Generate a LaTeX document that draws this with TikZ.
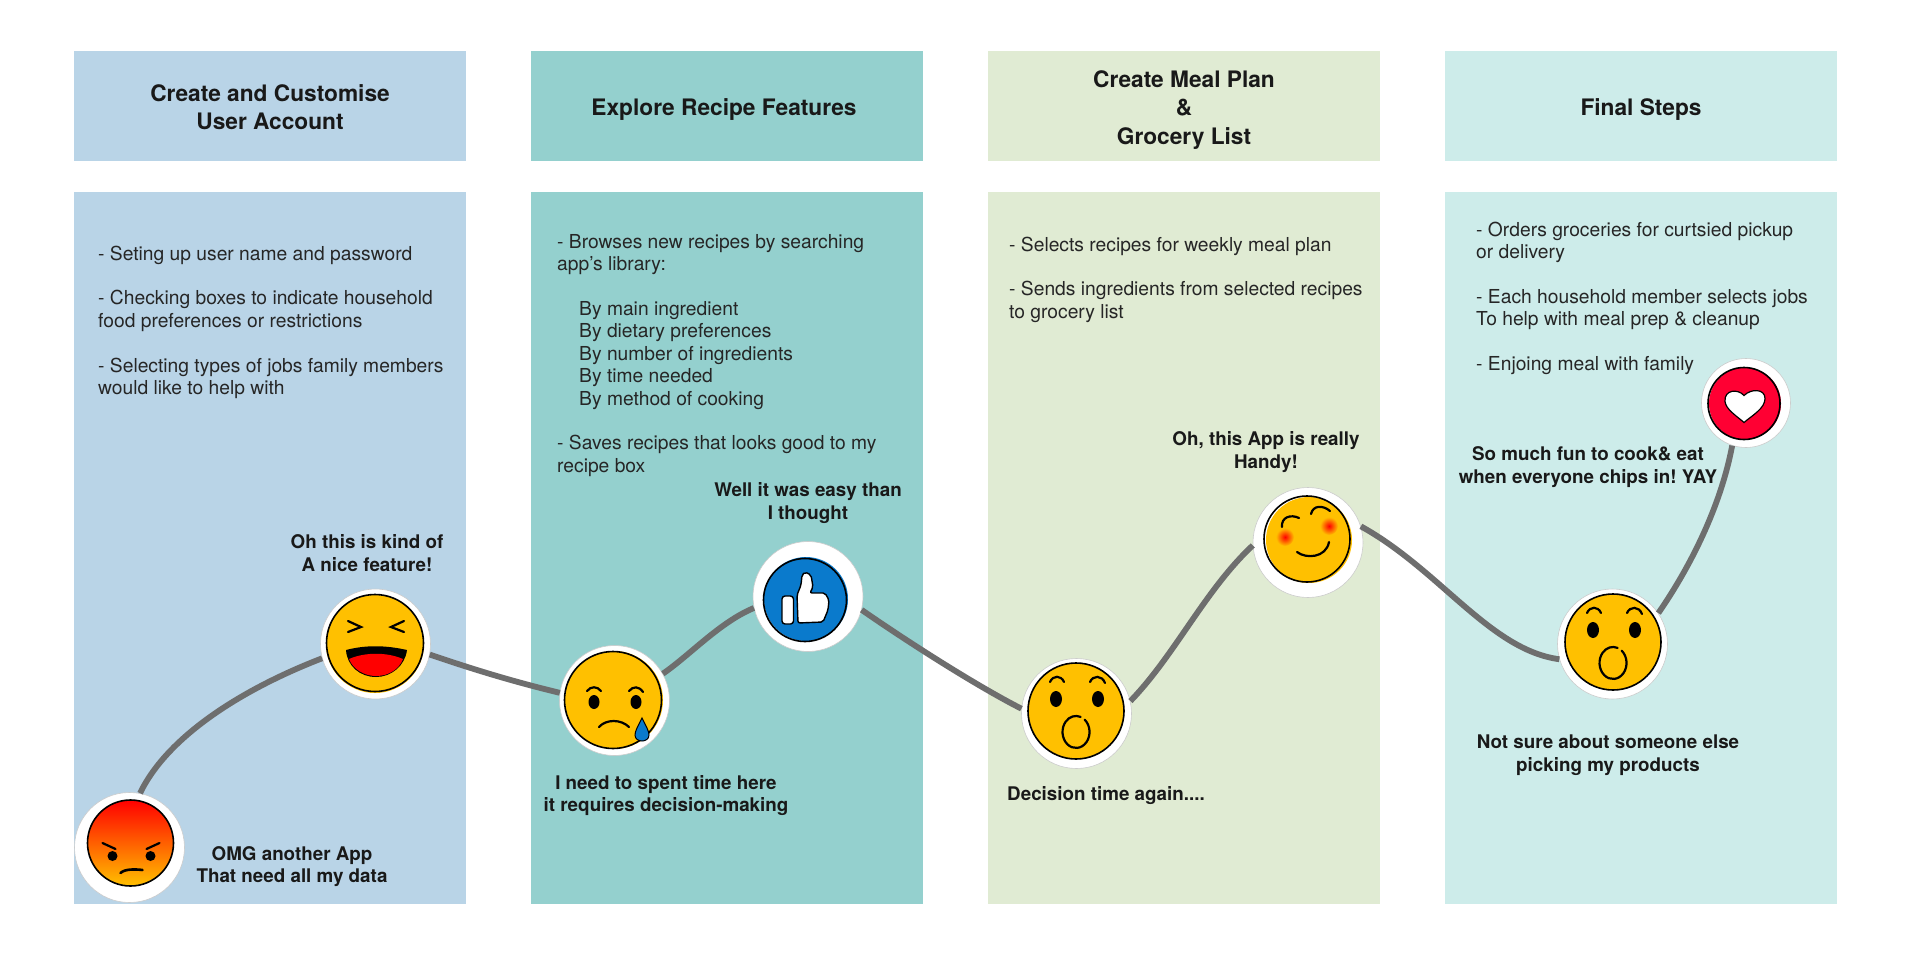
\documentclass[tikz,border=0pt]{standalone}
\usepackage{fontspec}
\setmainfont{TeX Gyre Heros}
\usepackage{xcolor}
\usepackage{tikz}

\definecolor{paneA}{HTML}{B9D4E7}
\definecolor{paneB}{HTML}{94D0CE}
\definecolor{paneC}{HTML}{E0EBD3}
\definecolor{paneD}{HTML}{CDECEA}
\definecolor{faceyellow}{HTML}{FFC000}
\definecolor{thumbblue}{HTML}{0A7ACC}
\definecolor{heartred}{HTML}{FF0033}
\definecolor{trackgray}{HTML}{6E6E6E}

\tikzset{
  headbox/.style={minimum width=392pt, minimum height=110pt, inner sep=0pt},
  bodybox/.style={minimum width=392pt, minimum height=712pt, inner sep=0pt},
  headtext/.style={inner sep=0pt, align=center, text=black!90, font=\bfseries\fontsize{22.7}{28.2}\selectfont},
  itemtext/.style={inner sep=0pt, anchor=north west, align=left, text=black!85, font=\frenchspacing\fontsize{19.25}{22.4}\selectfont},
  saytext/.style={inner sep=0pt, align=center, text=black!90, font=\frenchspacing\bfseries\fontsize{18.8}{22.8}\selectfont},
  bubble/.style={circle, fill=white, draw=black!20, line width=0.6pt, minimum size=110pt, inner sep=0pt},
  track/.style={draw=trackgray, line width=5.8pt},
  ink/.style={draw=black, line width=2.2pt, line cap=round},
  ring/.style={draw=black, line width=1.6pt}
}

\begin{document}
\begin{tikzpicture}[x=1pt,y=-1pt]
  \useasboundingbox (0,0) rectangle (1920,956);

  % Header boxes
  \node[headbox, fill=paneA] (headA) at (270,105.5) {};
  \node[headbox, fill=paneB] (headB) at (727,105.5) {};
  \node[headbox, fill=paneC] (headC) at (1184,105.5) {};
  \node[headbox, fill=paneD] (headD) at (1641,105.5) {};

  % Body columns
  \node[bodybox, fill=paneA] (bodyA) at (270,548) {};
  \node[bodybox, fill=paneB] (bodyB) at (727,548) {};
  \node[bodybox, fill=paneC] (bodyC) at (1184,548) {};
  \node[bodybox, fill=paneD] (bodyD) at (1641,548) {};

  % Header titles
  \node[headtext] (titleA) at (270,107) {Create and Customise\\User Account};
  \node[headtext] (titleB) at (724,110) {Explore Recipe Features};
  \node[headtext] (titleC) at (1184,110) {Create Meal Plan\\\&\\Grocery List};
  \node[headtext] (titleD) at (1641,110) {Final Steps};

  % Column texts
  \node[itemtext] (itemsA) at (98,245.5) {- Seting up user name and password\\[22.4pt]
    - Checking boxes to indicate household\\food preferences or restrictions\\[22.4pt]
    - Selecting types of jobs family members\\would like to help with};
  \node[itemtext] (itemsB) at (557,234) {- Browses new recipes by searching\\app’s library:\\[22.4pt]
    \hspace*{22pt}By main ingredient\\\hspace*{22pt}By dietary preferences\\\hspace*{22pt}By number of ingredients\\\hspace*{22pt}By time needed\\\hspace*{22pt}By method of cooking\\[22.4pt]
    - Saves recipes that looks good to my\\recipe box};
  \node[itemtext] (itemsC) at (1009,236.5) {- Selects recipes for weekly meal plan\\[22.4pt]
    - Sends ingredients from selected recipes\\to grocery list};
  \node[itemtext] (itemsD) at (1476,221.5) {- Orders groceries for curtsied pickup\\or delivery\\[22.4pt]
    - Each household member selects jobs\\To help with meal prep \& cleanup\\[22.4pt]
    - Enjoing meal with family};

  % Remarks along the curve
  \node[saytext] (sayAngry) at (292,866.5) {OMG another App\\That need all my data};
  \node[saytext] (sayLaugh) at (367,553) {Oh this is kind of\\A nice feature!};
  \node[saytext] (saySad) at (666,795.5) {I need to spent time here\\it requires decision-making};
  \node[saytext] (sayThumb) at (808,503) {Well it was easy than\\I thought};
  \node[saytext] (sayOhA) at (1106,795.5) {Decision time again....};
  \node[saytext] (saySmile) at (1266,452) {Oh, this App is really\\Handy!};
  \node[saytext] (sayOhB) at (1608,755) {Not sure about someone else\\picking my products};
  \node[saytext] (sayHeart) at (1588,467) {So much fun to cook\& eat\\when everyone chips in! YAY};

  % Bubbles on the curve
  \node[bubble] (angry) at (129.5,847.5) {};
  \node[bubble] (laugh) at (375.5,644) {};
  \node[bubble] (sad) at (614.5,700.5) {};
  \node[bubble] (thumb) at (808,596.5) {};
  \node[bubble] (ohA) at (1076.5,713.5) {};
  \node[bubble] (smile) at (1308,542.5) {};
  \node[bubble] (ohB) at (1612.5,644) {};
  \node[bubble, minimum size=89pt] (heart) at (1746,403) {};

  % Journey curve
  \draw[track] (angry.79) .. controls (168,735) and (245,688) .. (laugh.195);
  \draw[track] (laugh.-11) .. controls (475,670) and (515,682) .. (sad.172);
  \draw[track] (sad.29) .. controls (690,655) and (720,622) .. (thumb.192);
  \draw[track] (thumb.-14) .. controls (905,640) and (975,685) .. (ohA.175);
  \draw[track] (ohA.13) .. controls (1175,655) and (1205,590) .. (smile.183);
  \draw[track] (smile.17) .. controls (1440,570) and (1490,650) .. (ohB.196);
  \draw[track] (ohB.34) .. controls (1695,560) and (1722,500) .. (heart.252);

  % Angry face
  \begin{scope}[shift={(130.5,843)}]
    \shade[top color=red, middle color=orange!95!red, bottom color=faceyellow] (0,0) circle (43pt);
    \draw[ring] (0,0) circle (43pt);
    \draw[ink] (-28,0) -- (-15,6);
    \draw[ink] (29,0) -- (16,6);
    \fill (-18,13) circle (5pt);
    \fill (20,13) circle (5pt);
    \draw[ink, line width=2.6pt] (-10,30) .. controls (-6,26) and (4,26) .. (12,27);
  \end{scope}

  % Laughing face
  \begin{scope}[shift={(375,644)}]
    \fill[faceyellow] (0,0) circle (49pt);
    \draw[ring] (0,-1) circle (48.5pt);
    \draw[ink] (-27,-23) -- (-14,-17) -- (-27,-12);
    \draw[ink] (29,-23) -- (16,-17) -- (29,-12);
    \fill[black] (-29,6) .. controls (-10,1) and (10,1) .. (32,6) .. controls (30,22) and (16,33) .. (1,33) .. controls (-15,33) and (-28,22) .. (-29,6) -- cycle;
    \fill[red] (-26,15) .. controls (-10,8) and (12,8) .. (28,15) .. controls (24,25) and (14,32) .. (1,32) .. controls (-11,32) and (-22,25) .. (-26,15) -- cycle;
  \end{scope}

  % Sad face
  \begin{scope}[shift={(614,700)}]
    \fill[faceyellow] (0,0) circle (49pt);
    \draw[ring] (-1,0) circle (48.5pt);
    \draw[ink] (-27,-9) .. controls (-23,-14) and (-17,-14) .. (-13,-9);
    \draw[ink] (15,-9) .. controls (19,-14) and (25,-14) .. (29,-8);
    \fill (-20,2) ellipse (5.5pt and 7pt);
    \fill (22,2) ellipse (5.5pt and 7pt);
    \draw[ink] (-15,27) .. controls (-8,19) and (7,19) .. (15,27);
    \draw[fill=thumbblue, draw=black, line width=1pt] (28,18) .. controls (24,26) and (21,31) .. (21,35) .. controls (21,43) and (35,43) .. (35,35) .. controls (35,31) and (32,26) .. (28,18) -- cycle;
  \end{scope}

  % Thumbs up
  \begin{scope}[shift={(806,599)}]
    \fill[thumbblue] (0,0) circle (42pt);
    \draw[ring] (-1,1) circle (41.5pt);
    \draw[fill=white, draw=black, line width=1.4pt, rounded corners=3pt] (-24,-3) rectangle (-12.5,25);
    \draw[fill=white, draw=black, line width=1.4pt, rounded corners=2pt] (-8,24) -- (-9,-4) -- (-5,-14) -- (-4,-24) -- (-1,-27) -- (5,-24) -- (7,-12) -- (4,-6) -- (19,-6) -- (23,1) -- (22,11) -- (17,23) -- cycle;
  \end{scope}

  % Surprised face, first
  \begin{scope}[shift={(1076,711)}]
    \fill[faceyellow] (0,0) circle (48pt);
    \draw[ring] (0,0) circle (48pt);
    \draw[ink] (-26,-29) .. controls (-23,-36) and (-15,-36) .. (-12,-29);
    \draw[ink] (14,-29) .. controls (17,-36) and (26,-36) .. (29,-28);
    \fill (-20,-12) ellipse (6pt and 8pt);
    \fill (22,-12) ellipse (6pt and 8pt);
    \draw[ink] (8.7,8.7) arc[start angle=50, end angle=-290, x radius=13.5pt, y radius=16pt];
  \end{scope}

  % Smiling face
  \begin{scope}[shift={(1308,539)}]
    \fill[faceyellow] (1,1) circle (43pt);
    \draw[ring] (-1,0) circle (43pt);
    \shade[inner color=red, outer color=faceyellow] (-23,-2) circle (9pt);
    \shade[inner color=red, outer color=faceyellow] (21,-13) circle (9pt);
    \draw[ink] (-26,-12) .. controls (-27,-22) and (-17,-25) .. (-9,-21);
    \draw[ink] (3,-25) .. controls (5,-34) and (15,-34) .. (22,-28);
    \draw[ink] (-11,13) .. controls (-2,20) and (18,19) .. (21,3);
  \end{scope}

  % Surprised face, second
  \begin{scope}[shift={(1613,642)}]
    \fill[faceyellow] (0,0) circle (48pt);
    \draw[ring] (0,0) circle (48pt);
    \draw[ink] (-26,-29) .. controls (-23,-36) and (-15,-36) .. (-12,-29);
    \draw[ink] (14,-29) .. controls (17,-36) and (26,-36) .. (29,-28);
    \fill (-20,-12) ellipse (6pt and 8pt);
    \fill (22,-12) ellipse (6pt and 8pt);
    \draw[ink] (8.7,8.7) arc[start angle=50, end angle=-290, x radius=13.5pt, y radius=16pt];
  \end{scope}

  % Heart
  \begin{scope}[shift={(1745,403.5)}]
    \fill[heartred] (0,0) circle (36pt);
    \draw[ring] (-1,0) circle (36pt);
    \draw[fill=white, draw=black, line width=1.2pt] (-1,-8) .. controls (-7,-15) and (-21,-14) .. (-20,-2) .. controls (-19,6) and (-9,12) .. (-1,19) .. controls (7,12) and (20,5) .. (20,-5) .. controls (20,-15) and (6,-15) .. (-1,-8) -- cycle;
  \end{scope}
\end{tikzpicture}
\end{document}
